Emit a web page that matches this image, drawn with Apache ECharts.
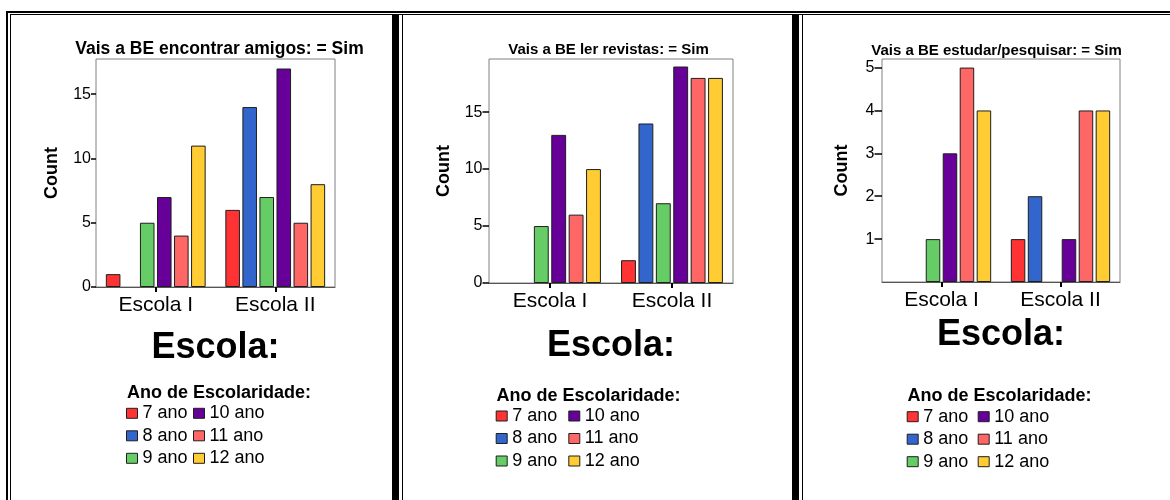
<!DOCTYPE html>
<html>
<head>
<meta charset="utf-8">
<script src="https://cdn.jsdelivr.net/npm/echarts@6/dist/echarts.min.js"></script>
<style>
html,body{margin:0;padding:0;background:#fff;}
#chart{width:1170px;height:500px;}
</style>
</head>
<body>
<div id="chart"></div>
<script>
// ---- data ----
const categories = ['Escola I', 'Escola II'];
const seriesNames = ['7 ano', '8 ano', '9 ano', '10 ano', '11 ano', '12 ano'];
const panelTitles = ['Vais a BE encontrar amigos: = Sim', 'Vais a BE ler revistas: = Sim', 'Vais a BE estudar/pesquisar: = Sim'];
const xAxisTitle = 'Escola:';
const yAxisTitle = 'Count';
const legendTitle = 'Ano de Escolaridade:';
// values per series (7..12 ano) as [Escola I, Escola II]
const amigosValues   = [[1, 6], [0, 14], [5, 7], [7, 17], [4, 5], [11, 8]];
const revistasValues = [[0, 2], [0, 14], [5, 7], [13, 19], [6, 18], [10, 18]];
const estudarValues  = [[0, 1], [0, 2], [1, 0], [3, 1], [5, 4], [4, 4]];
const amigosTicks   = [0, 5, 10, 15];
const revistasTicks = [0, 5, 10, 15];
const estudarTicks  = [1, 2, 3, 4, 5];

// ---- styles / layout ----
const colors = ['#ff3333', '#3366cc', '#66cc66', '#660099', '#ff6666', '#ffcc33'];
const FONT = 'Liberation Sans, Arial, sans-serif';
const panels = [
  {values: amigosValues, ticks: amigosTicks, max: 17.74, interval: 5,
   grid: {left: 96, top: 59, width: 239, height: 228}, tickLen: 5,
   titleX: 219.5, titleTop: 40.5, titleSize: 17.5, nameGapY: 34.5, nameGapX: 43,
   legTitleX: 127, legTitleY: 384.5, legCol1: 126, legCol2: 193, legTop: 403.3},
  {values: revistasValues, ticks: revistasTicks, max: 19.66, interval: 5,
   grid: {left: 489, top: 59, width: 244, height: 224}, tickLen: 6.5,
   titleX: 608.5, titleTop: 42.5, titleSize: 15, nameGapY: 35.5, nameGapX: 45,
   legTitleX: 496.5, legTitleY: 387.5, legCol1: 495.7, legCol2: 568.3, legTop: 406},
  {values: estudarValues, ticks: estudarTicks, max: 5.2, interval: 1,
   grid: {left: 882, top: 59, width: 238, height: 223}, tickLen: 7.5,
   titleX: 996.5, titleTop: 43, titleSize: 15, nameGapY: 30.5, nameGapX: 35.5,
   legTitleX: 907.5, legTitleY: 387.5, legCol1: 906.7, legCol2: 977.7, legTop: 406.7}
];

const option = {
  animation: false,
  backgroundColor: '#fff',
  title: [], legend: [], grid: [], xAxis: [], yAxis: [], series: [],
  graphic: []
};

panels.forEach((p, i) => {
  option.title.push({
    text: panelTitles[i], left: p.titleX, top: p.titleTop, textAlign: 'center', padding: 0,
    textStyle: {fontFamily: FONT, fontSize: p.titleSize, fontWeight: 'bold', color: '#000'}
  });
  option.title.push({
    text: legendTitle, left: p.legTitleX, top: p.legTitleY, padding: 0,
    textStyle: {fontFamily: FONT, fontSize: 18, fontWeight: 'bold', color: '#000'}
  });
  option.grid.push(Object.assign({show: true, borderColor: '#808080', borderWidth: 1, backgroundColor: 'transparent'}, p.grid));
  option.xAxis.push({
    type: 'category', gridIndex: i, data: categories,
    name: xAxisTitle, nameLocation: 'middle', nameGap: p.nameGapX,
    nameTextStyle: {fontFamily: FONT, fontSize: 36, fontWeight: 'bold', color: '#000'},
    axisLine: {show: true, lineStyle: {color: '#555', width: 1}},
    axisTick: {show: true, alignWithLabel: true, length: 5, lineStyle: {color: '#000', width: 2}},
    axisLabel: {interval: 0, margin: 7.5, fontFamily: FONT, fontSize: 21, color: '#000'},
    splitLine: {show: false}
  });
  option.yAxis.push({
    type: 'value', gridIndex: i, min: 0, max: p.max, interval: p.interval,
    name: yAxisTitle, nameLocation: 'middle', nameGap: p.nameGapY, nameRotate: 90,
    nameTextStyle: {fontFamily: FONT, fontSize: 18, fontWeight: 'bold', color: '#000'},
    axisLine: {show: false},
    axisTick: {show: true, length: p.tickLen, customValues: p.ticks, lineStyle: {color: '#000', width: 1.5}},
    axisLabel: {margin: p.tickLen, customValues: p.ticks, fontFamily: FONT, fontSize: 16, color: '#000'},
    splitLine: {show: false}
  });
  seriesNames.forEach((name, k) => {
    option.series.push({
      type: 'bar', name: name, xAxisIndex: i, yAxisIndex: i,
      data: p.values[k].map(v => (v === 0 ? null : v)),
      barCategoryGap: '16.5%', barGap: '17%',
      itemStyle: {color: colors[k], borderColor: '#1e1e1e', borderWidth: 1}
    });
  });
  const legendBase = {
    orient: 'vertical', top: p.legTop, padding: 0, itemWidth: 11, itemHeight: 10, itemGap: 2.5,
    icon: 'rect', selectedMode: false,
    textStyle: {fontFamily: FONT, fontSize: 18, color: '#000', lineHeight: 20},
    itemStyle: {borderColor: '#1e1e1e', borderWidth: 1}
  };
  option.legend.push(Object.assign({}, legendBase, {left: p.legCol1, data: seriesNames.slice(0, 3)}));
  option.legend.push(Object.assign({}, legendBase, {left: p.legCol2, data: seriesNames.slice(3, 6)}));
});

// page frame lines (table borders around the three panels)
const frameRects = [
  [6, 11, 1164, 2], [10, 14, 1160, 1],
  [6, 11, 2, 489], [10, 14, 1, 486],
  [392, 15, 7, 485], [402, 15, 1, 485],
  [792, 15, 7, 485], [802, 15, 1, 485]
];
frameRects.forEach(r => {
  option.graphic.push({type: 'rect', silent: true, z: 100,
    shape: {x: r[0], y: r[1], width: r[2], height: r[3]}, style: {fill: '#000'}});
});

const chart = echarts.init(document.getElementById('chart'), null, {renderer: 'canvas'});
chart.setOption(option);
</script>
</body>
</html>
